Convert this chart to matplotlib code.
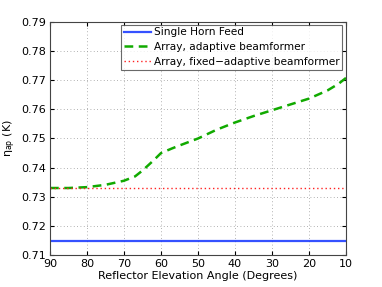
import matplotlib
matplotlib.use("Agg")
import matplotlib.pyplot as plt
import numpy as np

angles = [90, 85, 80, 75, 70, 67, 65, 62, 60, 57, 55, 50, 45, 40, 35, 30, 25, 20, 15, 12, 10]
adaptive = [0.7330, 0.7330, 0.7333, 0.7341, 0.7355, 0.7370, 0.7390, 0.7425, 0.7450, 0.7466, 0.7476, 0.7500,
            0.7530, 0.7555, 0.7577, 0.7597, 0.7617, 0.7637, 0.7665, 0.7688, 0.7708]
single_angles = [90, 10]
single = [0.7149, 0.7149]
fixed_angles = [90, 10]
fixed = [0.7330, 0.7330]

plt.rcParams['font.family'] = ['DejaVu Sans']
plt.rcParams['mathtext.fontset'] = 'dejavusans'
fig = plt.figure(figsize=(3.82, 2.87), dpi=100)
ax = fig.add_axes([50/382, 1 - 255/287, 296/382, 233/287])

ax.plot(single_angles, single, color='#1133ff', lw=1.6, label='Single Horn Feed', alpha=0.85)
ax.plot(angles, adaptive, color='#11aa00', lw=1.8, ls=(0, (3.5, 2.2)), label='Array, adaptive beamformer')
ax.plot(fixed_angles, fixed, color='#ff2222', lw=1.0, ls=(0, (1, 2)), label='Array, fixed\u2212adaptive beamformer')

ax.set_xlim(90, 10)
ax.set_ylim(0.71, 0.79)
ax.set_xticks(np.arange(90, 9, -10))
ax.set_yticks(np.arange(0.71, 0.7901, 0.01))
ax.set_yticklabels([f"{v:.2f}" for v in np.arange(0.71, 0.7901, 0.01)])
ax.tick_params(direction='in', labelsize=8, length=3, top=True, right=True, pad=3)
ax.grid(True, ls=(0, (1, 3)), color='#999999', lw=0.6)
for s in ax.spines.values():
    s.set_color('#444444')
    s.set_linewidth(0.8)

ax.set_xlabel('Reflector Elevation Angle (Degrees)', fontsize=8, labelpad=1)
ax.set_ylabel(r'$\mathrm{\eta_{ap}}$ (K)', fontsize=8, labelpad=2)

leg = ax.legend(loc='upper right', fontsize=7.6, frameon=True, fancybox=False,
                edgecolor='#444444', borderpad=0.25, labelspacing=0.45, handlelength=2.6,
                handletextpad=0.3, borderaxespad=0.0, bbox_to_anchor=(0.988, 0.988))
leg.get_frame().set_linewidth(0.8)

fig.savefig('out.png', dpi=100)
